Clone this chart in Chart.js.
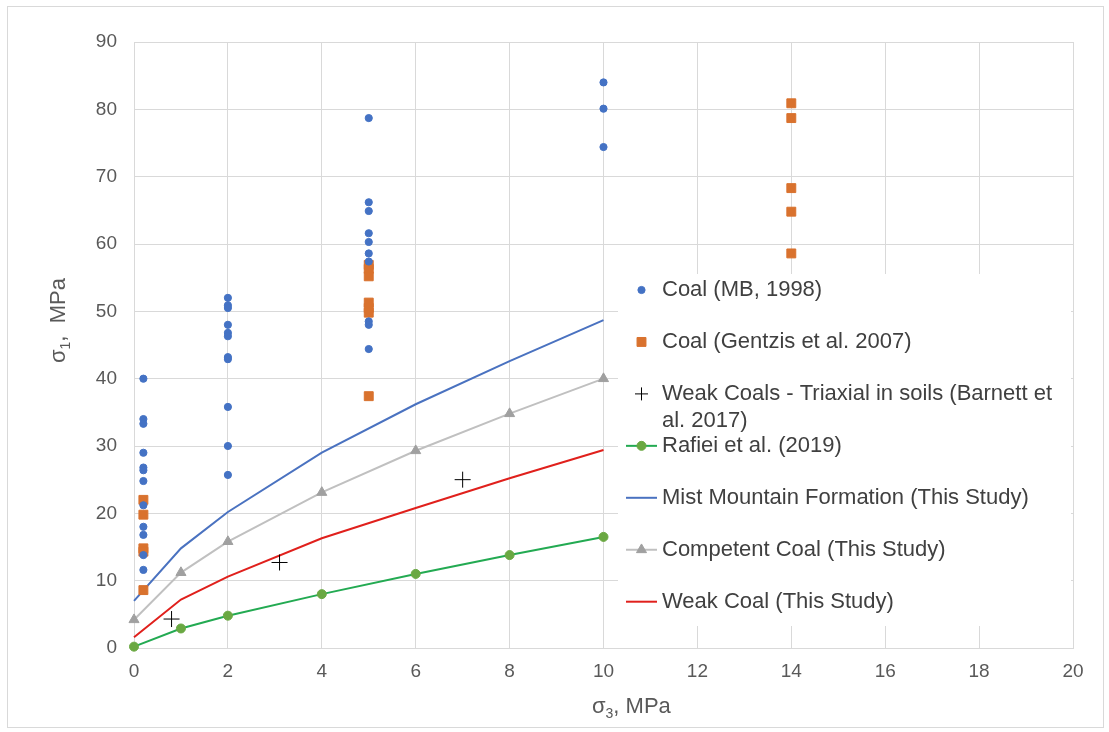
<!DOCTYPE html>
<html>
<head>
<meta charset="utf-8">
<title>Coal strength</title>
<script src="https://cdn.jsdelivr.net/npm/chart.js@4.4.1/dist/chart.umd.min.js"></script>
<style>
    html, body { margin: 0; padding: 0; background: #ffffff; }
    #wrap { position: relative; width: 1109px; height: 732px; }
</style>
</head>
<body>
<div id="wrap"><canvas id="strengthChart"></canvas></div>
<script>
// ---------- data (sigma3 / sigma1, MPa) ----------
var xTicks = [0, 2, 4, 6, 8, 10, 12, 14, 16, 18, 20];
var yTicks = [0, 10, 20, 30, 40, 50, 60, 70, 80, 90];

// Coal (MB, 1998)
var mbSigma3 = [0.2, 0.2, 0.2, 0.2, 0.2, 0.2, 0.2, 0.2, 0.2, 0.2, 0.2, 0.2,
                2, 2, 2, 2, 2, 2, 2, 2, 2, 2, 2,
                5, 5, 5, 5, 5, 5, 5, 5, 5, 5,
                10, 10, 10];
var mbSigma1 = [40, 34, 33.3, 29, 26.8, 26.4, 24.8, 21.2, 18, 16.8, 13.8, 11.6,
                52, 50.9, 50.5, 48, 46.8, 46.3, 43.2, 42.9, 35.8, 30, 25.7,
                78.7, 66.2, 64.9, 61.6, 60.3, 58.6, 57.4, 48.5, 48.0, 44.4,
                84, 80.1, 74.4];

// Coal (Gentzis et al. 2007)
var gentzisSigma3 = [0.2, 0.2, 0.2, 0.2, 0.2,
                     5, 5, 5, 5, 5, 5, 5,
                     14, 14, 14, 14, 14];
var gentzisSigma1 = [22, 19.8, 14.8, 14.3, 8.6,
                     56.9, 56.3, 55.2, 51.3, 50.5, 49.8, 37.4,
                     80.9, 78.7, 68.3, 64.8, 58.6];

// Weak Coals - Triaxial in soils (Barnett et al. 2017)
var barnettSigma3 = [0.8, 3.1, 7.0];
var barnettSigma1 = [4.3, 12.7, 25.0];

// fitted envelopes
var envSigma3 = [0, 1, 2, 4, 6, 8, 10];
var rafiei = [0.2, 2.9, 4.8, 8.0, 11.0, 13.8, 16.5];
var mistMountain = [7.0, 14.8, 20.2, 29.0, 36.2, 42.6, 48.7];
var competentCoal = [4.2, 11.2, 15.8, 23.1, 29.3, 34.8, 40.0];
var weakCoal = [1.6, 7.2, 10.6, 16.3, 20.8, 25.2, 29.4];

function toPoints(xs, ys) {
    return xs.map(function(x, i) { return { x: x, y: ys[i] }; });
}

var FONT = 'Liberation Sans, Arial, sans-serif';
var GRID = '#d9d9d9';

// legend drawn inside the plot, on a white box
var boxLegend = {
    id: 'boxLegend',
    afterDraw: function(chart) {
        var ctx = chart.ctx;
        var left = 618, top = 274, right = 1071, bottom = 626;
        var rowY0 = 290, rowStep = 51.95;
        var textX = 662, symX = 641.5, maxW = 405;

        ctx.save();
        ctx.fillStyle = '#ffffff';
        ctx.fillRect(left, top, right - left, bottom - top);

        ctx.font = '22px ' + FONT;
        ctx.textBaseline = 'middle';
        ctx.textAlign = 'left';

        chart.data.datasets.forEach(function(ds, i) {
            var y = rowY0 + i * rowStep;

            if (ds.showLine) {
                ctx.strokeStyle = ds.borderColor;
                ctx.lineWidth = ds.borderWidth;
                ctx.beginPath();
                ctx.moveTo(626, y);
                ctx.lineTo(657, y);
                ctx.stroke();
            }
            if (ds.pointRadius > 0) {
                ctx.fillStyle = ds.pointBackgroundColor;
                ctx.strokeStyle = ds.pointBorderColor;
                ctx.lineWidth = ds.pointBorderWidth || 1;
                Chart.helpers.drawPoint(ctx, {
                    pointStyle: ds.pointStyle,
                    radius: Math.min(ds.pointRadius, 6.5),
                    rotation: 0,
                    borderWidth: ds.pointBorderWidth || 1
                }, symX, y);
            }

            // simple word wrap
            var words = ds.label.split(' ');
            var line = '', lines = [];
            words.forEach(function(w) {
                var test = line ? line + ' ' + w : w;
                if (ctx.measureText(test).width > maxW && line) {
                    lines.push(line);
                    line = w;
                } else {
                    line = test;
                }
            });
            lines.push(line);
            ctx.fillStyle = '#404040';
            lines.forEach(function(t, k) {
                ctx.fillText(t, textX, y + k * 26.7);
            });
        });
        ctx.restore();
    }
};

// axis titles with subscripts, plus the outer frame
function drawSubTitle(ctx, x, y, sub, rest) {
    ctx.font = '22px ' + FONT;
    ctx.fillText('σ', x, y);
    x += ctx.measureText('σ').width;
    ctx.font = '14px ' + FONT;
    ctx.fillText(sub, x, y + 5);
    x += ctx.measureText(sub).width;
    ctx.font = '22px ' + FONT;
    ctx.fillText(rest, x, y);
}

var axisTitles = {
    id: 'axisTitles',
    afterDraw: function(chart) {
        var ctx = chart.ctx;
        ctx.save();
        ctx.fillStyle = '#595959';
        ctx.textBaseline = 'alphabetic';
        ctx.textAlign = 'left';
        drawSubTitle(ctx, 592, 713, '3', ', MPa');

        ctx.translate(65, 363);
        ctx.rotate(-Math.PI / 2);
        drawSubTitle(ctx, 0, 0, '1', ',  MPa');
        ctx.restore();

        ctx.save();
        ctx.strokeStyle = GRID;
        ctx.lineWidth = 1;
        ctx.strokeRect(7.5, 6.5, 1096, 721);
        ctx.restore();
    }
};

var ctx = document.getElementById('strengthChart').getContext('2d');
var strengthChart = new Chart(ctx, {
    type: 'scatter',
    data: {
        datasets: [
            {
                label: 'Coal (MB, 1998)',
                data: toPoints(mbSigma3, mbSigma1),
                pointStyle: 'circle',
                pointRadius: 3.6,
                pointBackgroundColor: '#4472c4',
                pointBorderColor: '#4472c4',
                pointBorderWidth: 1,
                showLine: false,
                clip: false
            },
            {
                label: 'Coal (Gentzis et al. 2007)',
                data: toPoints(gentzisSigma3, gentzisSigma1),
                pointStyle: 'rect',
                pointRadius: 6.3,
                pointBackgroundColor: '#d9722e',
                pointBorderColor: '#d9722e',
                pointBorderWidth: 1,
                showLine: false,
                clip: false
            },
            {
                label: 'Weak Coals - Triaxial in soils (Barnett et al. 2017)',
                data: toPoints(barnettSigma3, barnettSigma1),
                pointStyle: 'cross',
                pointRadius: 8,
                pointBackgroundColor: '#000000',
                pointBorderColor: '#000000',
                pointBorderWidth: 1,
                showLine: false,
                clip: false
            },
            {
                label: 'Rafiei et al. (2019)',
                data: toPoints(envSigma3, rafiei),
                showLine: true,
                borderColor: '#23aa52',
                borderWidth: 2,
                pointStyle: 'circle',
                pointRadius: 4.5,
                pointBackgroundColor: '#6aa842',
                pointBorderColor: '#6aa842',
                pointBorderWidth: 1,
                clip: false
            },
            {
                label: 'Mist Mountain Formation (This Study)',
                data: toPoints(envSigma3, mistMountain),
                showLine: true,
                borderColor: '#4a72c0',
                borderWidth: 2,
                pointRadius: 0,
                clip: false
            },
            {
                label: 'Competent Coal (This Study)',
                data: toPoints(envSigma3, competentCoal),
                showLine: true,
                borderColor: '#c0c0c0',
                borderWidth: 2,
                pointStyle: 'triangle',
                pointRadius: 5.8,
                pointBackgroundColor: '#a0a0a0',
                pointBorderColor: '#a0a0a0',
                pointBorderWidth: 1,
                clip: false
            },
            {
                label: 'Weak Coal (This Study)',
                data: toPoints(envSigma3, weakCoal),
                showLine: true,
                borderColor: '#e0201c',
                borderWidth: 2,
                pointRadius: 0,
                clip: false
            }
        ]
    },
    options: {
        responsive: true,
        maintainAspectRatio: false,
        animation: false,
        layout: { padding: { left: 0, top: 42, right: 36, bottom: 0 } },
        plugins: {
            legend: { display: false },
            tooltip: { enabled: false }
        },
        scales: {
            x: {
                type: 'linear',
                min: 0,
                max: 20,
                afterBuildTicks: function(s) { s.ticks = xTicks.map(function(v) { return { value: v }; }); },
                afterFit: function(s) { s.height = 84; },
                grid: { color: GRID, lineWidth: 1, drawTicks: false },
                border: { color: GRID, width: 1 },
                ticks: { color: '#595959', font: { family: FONT, size: 19 }, padding: 12, maxRotation: 0 }
            },
            y: {
                type: 'linear',
                min: 0,
                max: 90,
                afterBuildTicks: function(s) { s.ticks = yTicks.map(function(v) { return { value: v }; }); },
                afterFit: function(s) { s.width = 134; },
                grid: { color: GRID, lineWidth: 1, drawTicks: false },
                border: { color: GRID, width: 1 },
                ticks: { color: '#595959', font: { family: FONT, size: 19 }, padding: 17 }
            }
        }
    },
    plugins: [boxLegend, axisTitles]
});
</script>
</body>
</html>
